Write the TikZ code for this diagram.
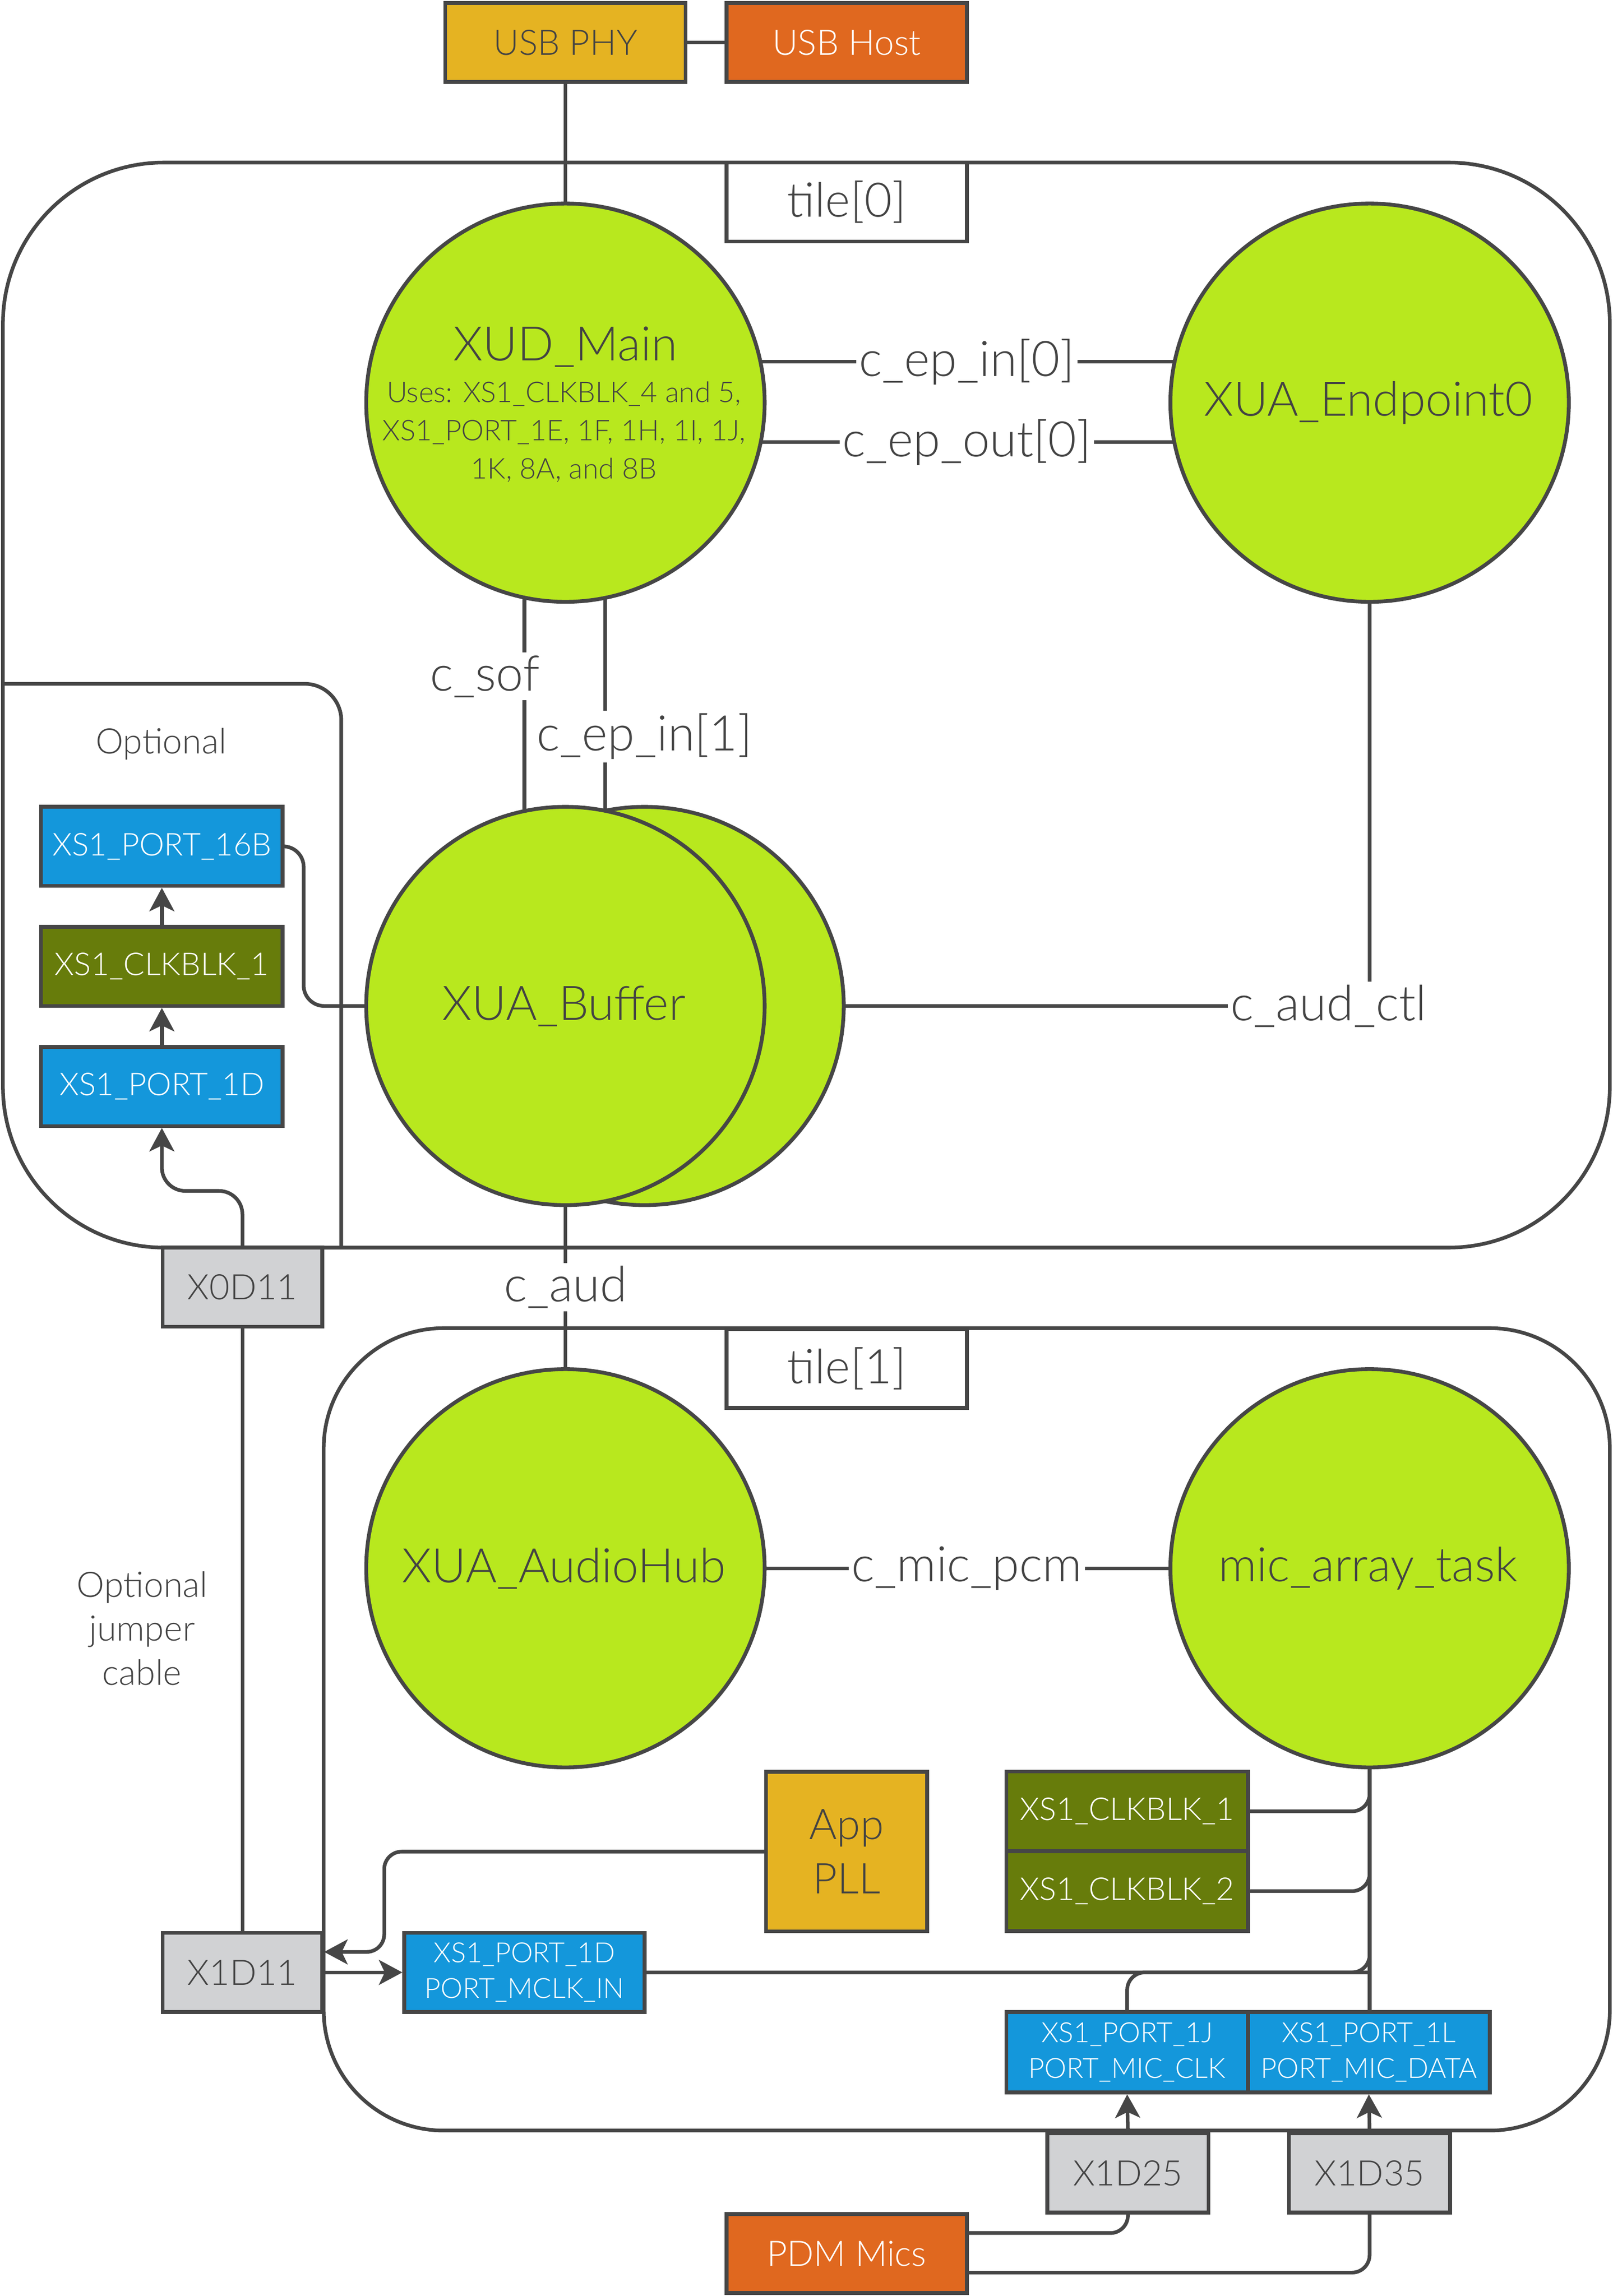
\documentclass[tikz,border=0pt]{standalone}
\usepackage{fontspec}
\setmainfont{Lato}[UprightFont={* Light}]
\usetikzlibrary{arrows.meta,calc,backgrounds}
\definecolor{lc}{HTML}{464646}
\definecolor{tc}{HTML}{434343}
\definecolor{gr}{HTML}{B8E81E}
\definecolor{bl}{HTML}{1497DB}
\definecolor{ol}{HTML}{677C0B}
\definecolor{go}{HTML}{E5B322}
\definecolor{orng}{HTML}{E0681F}
\definecolor{gy}{HTML}{D1D2D4}
\newcommand\szbig{\fontsize{32.5}{38}\selectfont}
\newcommand\szlab{\fontsize{33.5}{38}\selectfont}
\newcommand\szmid{\fontsize{24}{30}\selectfont}
\newcommand\szbox{\fontsize{21.5}{24}\selectfont}
\newcommand\szsml{\fontsize{19}{24.5}\selectfont}
\newcommand\szuse{\fontsize{19.5}{26}\selectfont}
\newcommand\szpll{\fontsize{29}{37}\selectfont}
\begin{document}
\begin{tikzpicture}[x=1pt,y=-1pt,
  ln/.style={draw=lc, line width=2.5pt},
  box/.style={rectangle, draw=lc, line width=2.6pt, inner sep=0pt, align=center},
  circ/.style={circle, draw=lc, line width=2.6pt, fill=gr, minimum size=272pt, inner sep=0pt},
  lab/.style={fill=white, inner sep=2pt, text=tc, font=\szlab},
  arr/.style={-{Stealth[length=16pt,width=17pt,inset=4pt]}},
  bluebox/.style={box, fill=bl, text=white},
  olbox/.style={box, fill=ol, text=white},
  graybox/.style={box, fill=gy, text=tc, font=\szmid, minimum width=109pt, minimum height=54pt},
]
\useasboundingbox (0,0) rectangle (1101,1568);

% tiles
\draw[ln, rounded corners=110pt] (2,111) rectangle (1099,852);
\draw[ln, rounded corners=82pt] (221,907) rectangle (1099,1455);
\draw[ln, rounded corners=25pt] (2,467) -- (233,467) -- (233,852);

% nodes
\node[box, fill=go, text=tc, font=\szmid, minimum width=164pt, minimum height=54pt] (usbphy) at (386,29) {USB PHY};
\node[box, fill=orng, text=white, font=\szmid, minimum width=164pt, minimum height=54pt] (usbhost) at (578,29) {USB Host};
\node[box, fill=white, text=tc, font=\szbig, minimum width=164pt, minimum height=54pt] (t0lab) at (578,138) {tile[0]};
\node[box, fill=white, text=tc, font=\szbig, minimum width=164pt, minimum height=54pt] (t1lab) at (578,934.5) {tile[1]};

\node[circ] (xud) at (386,275) {};
\node[circ] (ep0) at (935,275) {};
\node[circ] (bufback) at (440,687) {};
\node[circ] (bufront) at (386,687) {};
\node[circ] (hub) at (386,1071) {};
\node[circ] (mic) at (935,1071) {};

\node[font=\szbig, text=tc] (xudt) at (386,237) {XUD\_Main};
\node[font=\szuse, text=tc, align=center] (xuduses) at (385,295) {Uses: XS1\_CLKBLK\_4 and 5,\\XS1\_PORT\_1E, 1F, 1H, 1I, 1J,\\1K, 8A, and 8B};
\node[font=\szbig, text=tc] (ep0t) at (934,275) {XUA\_Endpoint0};
\node[font=\szbig, text=tc] (buft) at (385,687) {XUA\_Buffer};
\node[font=\szbig, text=tc] (hubt) at (385,1071) {XUA\_AudioHub};
\node[font=\szbig, text=tc] (mict) at (934,1071) {mic\_array\_task};

\node[font=\szmid, text=tc] (opt) at (110,508) {Optional};
\node[bluebox, font=\szbox, minimum width=165pt, minimum height=54pt] (port16b) at (110.5,578) {XS1\_PORT\_16B};
\node[olbox, font=\szbox, minimum width=165pt, minimum height=54pt] (clk1a) at (110.5,660) {XS1\_CLKBLK\_1};
\node[bluebox, font=\szbox, minimum width=165pt, minimum height=54pt] (port1d) at (110.5,742) {XS1\_PORT\_1D};

\node[graybox] (x0d11) at (165.5,879) {X0D11};
\node[graybox] (x1d11) at (165.5,1347) {X1D11};
\node[font=\szmid, text=tc, align=center] (jump) at (97,1112) {Optional\\jumper\\cable};

\node[box, fill=go, text=tc, font=\szpll, minimum width=110pt, minimum height=109pt] (apppll) at (578,1264.5) {App\\PLL};
\node[olbox, font=\szbox, minimum width=165pt, minimum height=54.5pt] (clkb1) at (769.5,1237) {XS1\_CLKBLK\_1};
\node[olbox, font=\szbox, minimum width=165pt, minimum height=54.5pt] (clkb2) at (769.5,1291.5) {XS1\_CLKBLK\_2};
\node[bluebox, font=\szsml, minimum width=164pt, minimum height=54pt] (mclk) at (358,1347) {XS1\_PORT\_1D\\PORT\_MCLK\_IN};
\node[bluebox, font=\szsml, minimum width=165pt, minimum height=55pt] (port1j) at (769.5,1401.5) {XS1\_PORT\_1J\\PORT\_MIC\_CLK};
\node[bluebox, font=\szsml, minimum width=165pt, minimum height=55pt] (port1l) at (934.5,1401.5) {XS1\_PORT\_1L\\PORT\_MIC\_DATA};
\node[graybox, minimum width=110pt] (x1d25) at (770,1484) {X1D25};
\node[graybox, minimum width=110pt] (x1d35) at (935,1484) {X1D35};
\node[box, fill=orng, text=white, font=\szmid, minimum width=164pt, minimum height=54pt] (pdm) at (578,1539) {PDM Mics};

% connectors behind the nodes
\begin{scope}[on background layer]
\draw[ln] (usbphy.east) -- (usbhost.west);
\draw[ln] (usbphy.south) -- (xud.center);
\draw[ln] ([yshift=28pt]xud.center) -- ([yshift=28pt]ep0.center);
\draw[ln] ([yshift=-27pt]xud.center) -- ([yshift=-27pt]ep0.center);
\draw[ln] ([xshift=-28pt]xud.center) -- ([xshift=-28pt]bufront.center);
\draw[ln] ([xshift=27pt]xud.center) -- ([xshift=-27pt]bufback.center);
\draw[ln, rounded corners=10pt] (bufback.center) -| (ep0.center);
\draw[ln, rounded corners=14pt] (port16b.east) -- ++(13,0) |- (bufront.center);
\draw[ln] (x0d11.south) -- (x1d11.north);
\draw[ln] (bufront.center) -- (hub.center);
\draw[ln] (hub.center) -- (mic.center);
\draw[ln] (mic.center) -- (mic.center |- port1l.north);
\draw[ln, rounded corners=12pt] (clkb1.east) -| (mic.center);
\draw[ln, rounded corners=12pt] (clkb2.east) -| (mic.center);
\draw[ln, rounded corners=12pt] (mclk.east) -| (mic.center);
\draw[ln, rounded corners=12pt] (port1j.north) |- (mic.center |- mclk.east);
\draw[ln, rounded corners=12pt] ([yshift=14pt]pdm.east) -| (x1d25.south);
\draw[ln, rounded corners=12pt] ([yshift=-13pt]pdm.east) -| (x1d35.south);
\end{scope}
\draw[ln, arr] (clk1a.north) -- (port16b.south);
\draw[ln, arr] (port1d.north) -- (clk1a.south);
\draw[ln, arr, rounded corners=16pt] (x0d11.north) |- ([yshift=-43pt]port1d.south) -- (port1d.south);
\draw[ln, arr, rounded corners=12pt] (apppll.west) -| ([xshift=41pt,yshift=14pt]x1d11.east) -- ([yshift=14pt]x1d11.east);
\draw[ln, arr] (x1d11.east) -- (mclk.west);
\draw[ln, arr] (x1d25.north) -- (port1j.south);
\draw[ln, arr] (x1d35.north) -- (port1l.south);

% connector labels
\node[lab] (lepin0) at (660,247) {c\_ep\_in[0]};
\node[lab] (lepout0) at (660,302) {c\_ep\_out[0]};
\node[lab] (lsof) at (331,462) {c\_sof};
\node[lab] (lepin1) at (440,503) {c\_ep\_in[1]};
\node[lab] (lctl) at (907,687) {c\_aud\_ctl};
\node[lab] (laud) at (386,879) {c\_aud};
\node[lab] (lpcm) at (660,1071) {c\_mic\_pcm};
\end{tikzpicture}
\end{document}
